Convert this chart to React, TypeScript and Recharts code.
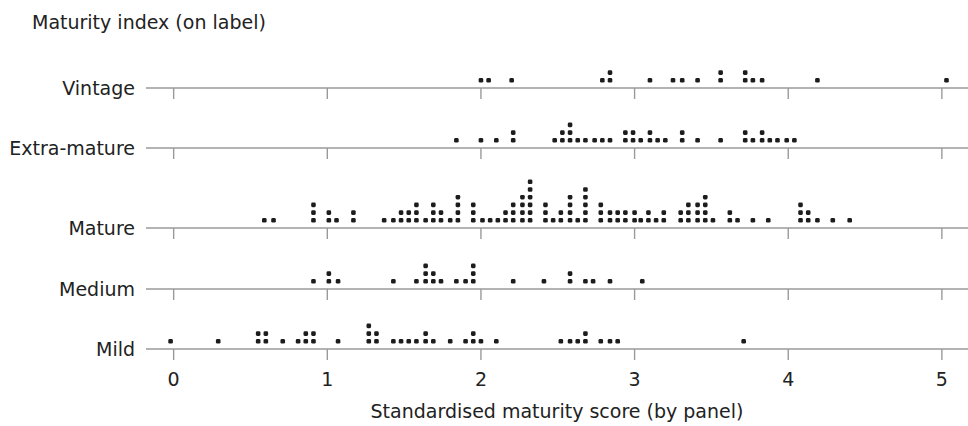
import React from "react";
import { ScatterChart, Scatter, XAxis, YAxis } from "recharts";

// dot-plot stacks: x = bin centre (standardised score), n = number of dots stacked in the bin
const vintageX = [2.0, 2.05, 2.2, 2.79, 2.84, 3.1, 3.25, 3.31, 3.41, 3.56, 3.72, 3.77, 3.83, 4.19, 5.03];
const vintageN = [1, 1, 1, 1, 2, 1, 1, 1, 1, 2, 2, 1, 1, 1, 1];

const extraX = [1.84, 2.0, 2.1, 2.21, 2.48, 2.53, 2.58, 2.63, 2.68, 2.74, 2.79, 2.84, 2.94, 2.99, 3.04, 3.1, 3.15, 3.2, 3.31, 3.41, 3.56, 3.72, 3.77, 3.83, 3.88, 3.93, 3.99, 4.04];
const extraN = [1, 1, 1, 2, 1, 2, 3, 1, 1, 1, 1, 1, 2, 2, 1, 2, 1, 1, 2, 1, 1, 2, 1, 2, 1, 1, 1, 1];

const matureX = [0.59, 0.65, 0.91, 1.01, 1.06, 1.17, 1.37, 1.43, 1.48, 1.53, 1.58, 1.64, 1.69, 1.74, 1.8, 1.85, 1.95, 2.01, 2.06, 2.11, 2.16, 2.21, 2.27, 2.32, 2.42, 2.47, 2.52, 2.58, 2.63, 2.68, 2.78, 2.84, 2.89, 2.94, 3.0, 3.04, 3.09, 3.14, 3.19, 3.3, 3.35, 3.41, 3.46, 3.51, 3.62, 3.67, 3.77, 3.87, 4.08, 4.13, 4.19, 4.29, 4.4];
const matureN = [1, 1, 3, 2, 1, 2, 1, 1, 2, 2, 3, 1, 3, 2, 1, 4, 3, 1, 1, 1, 2, 3, 4, 6, 3, 1, 2, 4, 1, 5, 3, 2, 2, 2, 2, 1, 2, 1, 2, 2, 3, 3, 4, 1, 2, 1, 1, 1, 3, 2, 1, 1, 1];

const mediumX = [0.91, 1.01, 1.07, 1.43, 1.58, 1.64, 1.69, 1.74, 1.84, 1.9, 1.95, 2.21, 2.41, 2.58, 2.68, 2.73, 2.84, 3.05];
const mediumN = [1, 2, 1, 1, 1, 3, 2, 1, 1, 1, 3, 1, 1, 2, 1, 1, 1, 1];

const mildX = [-0.02, 0.29, 0.55, 0.6, 0.71, 0.81, 0.86, 0.91, 1.07, 1.27, 1.32, 1.43, 1.48, 1.53, 1.58, 1.64, 1.69, 1.8, 1.9, 1.95, 2.0, 2.1, 2.52, 2.58, 2.63, 2.68, 2.78, 2.84, 2.89, 3.71];
const mildN = [1, 1, 2, 2, 1, 1, 2, 2, 1, 3, 2, 1, 1, 1, 1, 2, 1, 1, 1, 2, 1, 1, 1, 1, 1, 2, 1, 1, 1, 1];

const X_TICKS = [0, 1, 2, 3, 4, 5];

const FONT = "'DejaVu Sans', sans-serif";
const TEXT = "#222";
const AXIS = "#9a9a9a";
const UNIT = 7.7; // px per stacked dot
const PLOT_H = 58;

// one point per dot, stacked upward from the baseline
function stack(xs: number[], ns: number[]) {
  const pts: { x: number; y: number }[] = [];
  xs.forEach((x, i) => {
    for (let k = 0; k < ns[i]; k++) pts.push({ x, y: k + 1 });
  });
  return pts;
}

const panels = [
  { name: "Vintage", data: stack(vintageX, vintageN), baseline: 88 },
  { name: "Extra-mature", data: stack(extraX, extraN), baseline: 148 },
  { name: "Mature", data: stack(matureX, matureN), baseline: 228 },
  { name: "Medium", data: stack(mediumX, mediumN), baseline: 289 },
  { name: "Mild", data: stack(mildX, mildN), baseline: 349 },
];

const Dot = (p: any) => (
  <rect x={p.cx - 2.3} y={p.cy - 2.3} width={4.6} height={4.6} rx={1.4} fill="#1c1c1c" />
);

function Panel({ name, data, baseline, last }: any) {
  const axisH = last ? 77 : 13;
  return (
    <div style={{ position: "absolute", left: 0, top: baseline - PLOT_H }}>
      <ScatterChart width={968} height={PLOT_H + axisH} margin={{ top: 0, right: 0, bottom: 0, left: 0 }}>
        <XAxis
          type="number"
          dataKey="x"
          domain={[-0.18, 5.17]}
          allowDataOverflow
          ticks={X_TICKS}
          interval={0}
          height={axisH}
          tickSize={11}
          tickMargin={13}
          axisLine={{ stroke: AXIS, strokeWidth: 1.6 }}
          tickLine={{ stroke: AXIS, strokeWidth: 1.4 }}
          tickFormatter={(v: number) => (last ? String(v) : "")}
          tick={{ fontSize: 19, fill: TEXT, fontFamily: FONT }}
          label={
            last
              ? {
                  value: "Standardised maturity score (by panel)",
                  position: "insideBottom",
                  offset: 8,
                  fill: TEXT,
                  fontSize: 19,
                  fontFamily: FONT,
                }
              : undefined
          }
        />
        <YAxis
          type="number"
          dataKey="y"
          domain={[0, PLOT_H / UNIT]}
          allowDataOverflow
          ticks={[0]}
          tickFormatter={() => name}
          width={146}
          axisLine={false}
          tickLine={false}
          tickMargin={5}
          tick={{ fontSize: 19, fill: TEXT, fontFamily: FONT }}
        />
        <Scatter data={data} shape={Dot} isAnimationActive={false} />
      </ScatterChart>
    </div>
  );
}

export default function App() {
  return (
    <div style={{ position: "absolute", left: 0, top: 0, width: 968, height: 426, background: "#fff", overflow: "hidden" }}>
      <div
        style={{
          position: "absolute",
          left: 32,
          top: 11,
          fontFamily: FONT,
          fontSize: 19,
          lineHeight: "22px",
          color: TEXT,
          whiteSpace: "nowrap",
        }}
      >
        Maturity index (on label)
      </div>
      {panels.map((p, i) => (
        <Panel key={p.name} {...p} last={i === panels.length - 1} />
      ))}
    </div>
  );
}
